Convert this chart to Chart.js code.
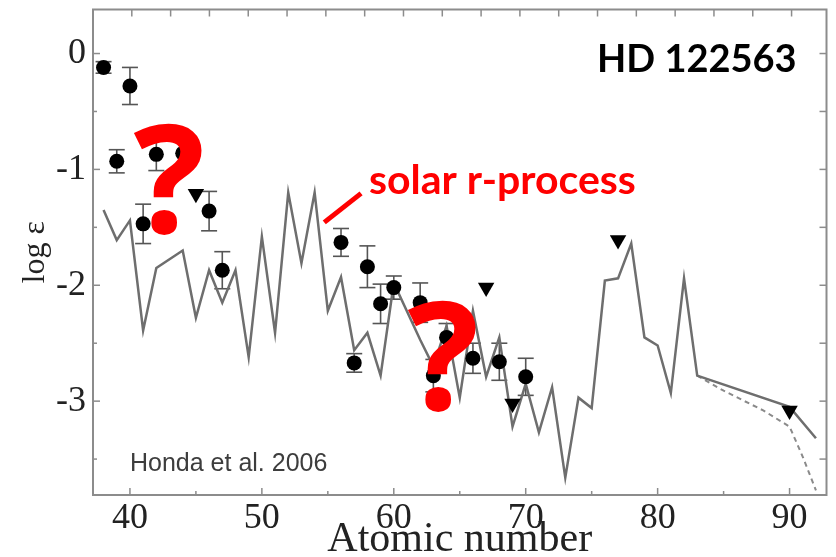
<!DOCTYPE html>
<html>
<head>
<meta charset="utf-8">
<script src="https://cdn.jsdelivr.net/npm/chart.js@4.4.1/dist/chart.umd.min.js"></script>
<style>
  html, body { margin: 0; padding: 0; background: #ffffff; }
  #wrap { width: 836px; height: 557px; }
</style>
</head>
<body>
<div id="wrap"><canvas id="c" width="836" height="557"></canvas></div>
<script>
// Measured abundances in HD 122563 (log epsilon versus atomic number)
const detectedZ      = [38, 39, 40, 41, 42, 44, 46, 47, 56, 57, 58, 59, 60, 62, 63, 64, 66, 68, 70];
const detectedLogEps = [-0.12, -0.93, -0.28, -1.47, -0.87, -0.86, -1.36, -1.87, -1.63, -2.67, -1.84, -2.16, -2.02, -2.15, -2.78, -2.45, -2.63, -2.66, -2.79];
const detectedErr    = [0.05, 0.10, 0.16, 0.17, 0.14, 0.10, 0.17, 0.16, 0.12, 0.08, 0.18, 0.17, 0.10, 0.17, 0.14, 0.12, 0.13, 0.16, 0.16];

// Upper limits
const limitZ      = [45, 67, 69, 77, 90];
const limitLogEps = [-1.21, -2.02, -3.02, -1.61, -3.08];

// Scaled solar r-process pattern
const solarZ      = [38, 39, 40, 41, 42, 44, 45, 46, 47, 48, 49, 50, 51, 52, 53, 54, 55, 56, 57, 58, 59, 60, 62, 63, 64, 65, 66, 67, 68, 69, 70, 71, 72, 73, 74, 75, 76, 77, 78, 79, 80, 81, 82, 83, 90, 92];
const solarLogEps = [-1.35, -1.61, -1.44, -2.39, -1.85, -1.70, -2.28, -1.87, -2.15, -1.87, -2.62, -1.58, -2.41, -1.20, -1.81, -1.20, -2.22, -1.93, -2.56, -2.41, -2.78, -1.98, -2.47, -2.70, -2.35, -2.97, -2.22, -2.79, -2.45, -3.22, -2.85, -3.27, -2.88, -3.66, -2.97, -3.06, -1.96, -1.94, -1.64, -2.45, -2.52, -2.93, -1.94, -2.78, -3.05, -3.32];

// Actinide branch with radioactive decay
const decayZ      = [83, 85, 88, 90, 91, 92];
const decayLogEps = [-2.78, -2.91, -3.08, -3.22, -3.48, -3.77];

// Axis ticks
const xMajorTicks = [40, 50, 60, 70, 80, 90];
const xMinorTicks = [45, 55, 65, 75, 85];
const yMajorTicks = [0, -1, -2, -3];
const yMinorTicks = [-0.5, -1.5, -2.5, -3.5];

const toPoints = (xs, ys) => xs.map((v, i) => ({ x: v, y: ys[i] }));

const serif = "'Liberation Serif', 'DejaVu Serif', serif";
const sansBold = "Lato, 'Open Sans', sans-serif";

const frameAndBars = {
  id: 'frameAndBars',
  beforeDatasetsDraw(chart) {
    const { ctx, chartArea: a, scales } = chart;
    const x = scales.x, y = scales.y, xTop = scales.xTop;
    ctx.save();
    // frame
    ctx.strokeStyle = '#8c8c8c';
    ctx.lineWidth = 2;
    ctx.strokeRect(a.left, a.top, a.right - a.left, a.bottom - a.top);
    // inward ticks
    ctx.lineWidth = 1.5;
    const tick = (x1, y1, x2, y2) => { ctx.beginPath(); ctx.moveTo(x1, y1); ctx.lineTo(x2, y2); ctx.stroke(); };
    xMajorTicks.forEach(v => { const px = x.getPixelForValue(v); tick(px, a.bottom, px, a.bottom - 7); });
    xMinorTicks.forEach(v => { const px = x.getPixelForValue(v); tick(px, a.bottom, px, a.bottom - 4); });
    yMajorTicks.forEach(v => { const py = y.getPixelForValue(v); tick(a.left, py, a.left + 7, py); tick(a.right, py, a.right - 7, py); });
    yMinorTicks.forEach(v => { const py = y.getPixelForValue(v); tick(a.left, py, a.left + 4, py); tick(a.right, py, a.right - 7, py); });
    for (let v = Math.ceil(xTop.min); v <= xTop.max; v++) {
      const px = xTop.getPixelForValue(v);
      tick(px, a.top, px, a.top + 7);
    }
    // error bars
    ctx.strokeStyle = '#555555';
    ctx.lineWidth = 1.6;
    detectedZ.forEach((z, i) => {
      const px = x.getPixelForValue(z);
      const hi = y.getPixelForValue(detectedLogEps[i] + detectedErr[i]);
      const lo = y.getPixelForValue(detectedLogEps[i] - detectedErr[i]);
      tick(px, hi, px, lo);
      tick(px - 8, hi, px + 8, hi);
      tick(px - 8, lo, px + 8, lo);
    });
    ctx.restore();
  },
  afterDraw(chart) {
    const { ctx, scales: { x, y } } = chart;
    ctx.save();
    // credit
    ctx.fillStyle = '#3d3d3d';
    ctx.font = "25px 'Liberation Sans', Arial, sans-serif";
    ctx.textBaseline = 'alphabetic';
    ctx.textAlign = 'left';
    ctx.fillText('Honda et al. 2006', 130, 471);
    // star name
    ctx.fillStyle = '#000000';
    ctx.font = "bold 38px " + sansBold;
    ctx.fillText('HD 122563', 597, 72);
    // solar r-process label and pointer
    ctx.fillStyle = '#ff0000';
    ctx.strokeStyle = '#ff0000';
    ctx.font = "bold 41px " + sansBold;
    ctx.fillText('solar r-process', 369, 194);
    ctx.lineWidth = 5;
    ctx.beginPath();
    ctx.moveTo(x.getPixelForValue(54.73), y.getPixelForValue(-1.457));
    ctx.lineTo(x.getPixelForValue(57.52), y.getPixelForValue(-1.207));
    ctx.stroke();
    // question marks
    ctx.font = "bold 150px 'Open Sans', sans-serif";
    ctx.textAlign = 'center';
    ctx.fillText('?', x.getPixelForValue(42.98), y.getPixelForValue(-1.55));
    ctx.fillText('?', x.getPixelForValue(63.75), y.getPixelForValue(-3.08));
    ctx.restore();
  }
};

new Chart(document.getElementById('c'), {
  data: {
    datasets: [
      {
        type: 'scatter',
        label: 'detected',
        data: toPoints(detectedZ, detectedLogEps),
        pointStyle: 'circle',
        pointRadius: 7.5,
        pointBackgroundColor: '#000000',
        pointBorderColor: '#000000',
        pointBorderWidth: 0,
        order: 1
      },
      {
        type: 'scatter',
        label: 'upper limit',
        data: toPoints(limitZ, limitLogEps),
        pointStyle: 'triangle',
        rotation: 180,
        pointRadius: 9.5,
        pointBackgroundColor: '#000000',
        pointBorderColor: '#000000',
        pointBorderWidth: 0,
        order: 1
      },
      {
        type: 'line',
        label: 'solar r-process',
        data: toPoints(solarZ, solarLogEps),
        borderColor: '#6e6e6e',
        borderWidth: 2.5,
        pointRadius: 0,
        tension: 0,
        fill: false,
        order: 2
      },
      {
        type: 'line',
        label: 'decayed',
        data: toPoints(decayZ, decayLogEps),
        borderColor: '#8a8a8a',
        borderWidth: 2,
        borderDash: [5, 4],
        pointRadius: 0,
        tension: 0,
        fill: false,
        order: 3
      }
    ]
  },
  options: {
    responsive: false,
    animation: false,
    devicePixelRatio: 1,
    layout: { padding: { top: 9, right: 7, left: 0, bottom: 0 } },
    plugins: { legend: { display: false }, tooltip: { enabled: false } },
    scales: {
      x: {
        type: 'linear',
        position: 'bottom',
        min: 37.2,
        max: 92.8,
        grid: { display: false, drawTicks: false },
        border: { display: false },
        afterBuildTicks: s => { s.ticks = xMajorTicks.map(v => ({ value: v })); },
        afterFit: s => { s.height = 62; s.paddingLeft = 0; s.paddingRight = 0; },
        ticks: { color: '#222', font: { family: serif, size: 36 }, padding: 2, maxRotation: 0, autoSkip: false },
        title: { display: true, text: 'Atomic number', color: '#222', font: { family: serif, size: 42, lineHeight: 1 }, padding: { top: 0, bottom: -4 } }
      },
      xTop: {
        type: 'linear',
        position: 'top',
        display: false,
        min: -1,
        max: 17.9
      },
      y: {
        type: 'linear',
        position: 'left',
        min: -3.81,
        max: 0.38,
        grid: { display: false, drawTicks: false },
        border: { display: false },
        afterBuildTicks: s => { s.ticks = yMajorTicks.map(v => ({ value: v })); },
        afterFit: s => { s.width = 93; s.paddingTop = 0; s.paddingBottom = 0; },
        ticks: { color: '#222', font: { family: serif, size: 36 }, padding: 7, callback: v => String(v) },
        title: { display: true, text: 'log ε', color: '#222', font: { family: serif, size: 32, lineHeight: 1 }, padding: { top: 20, bottom: 0 } }
      }
    }
  },
  plugins: [frameAndBars]
});
</script>
</body>
</html>
